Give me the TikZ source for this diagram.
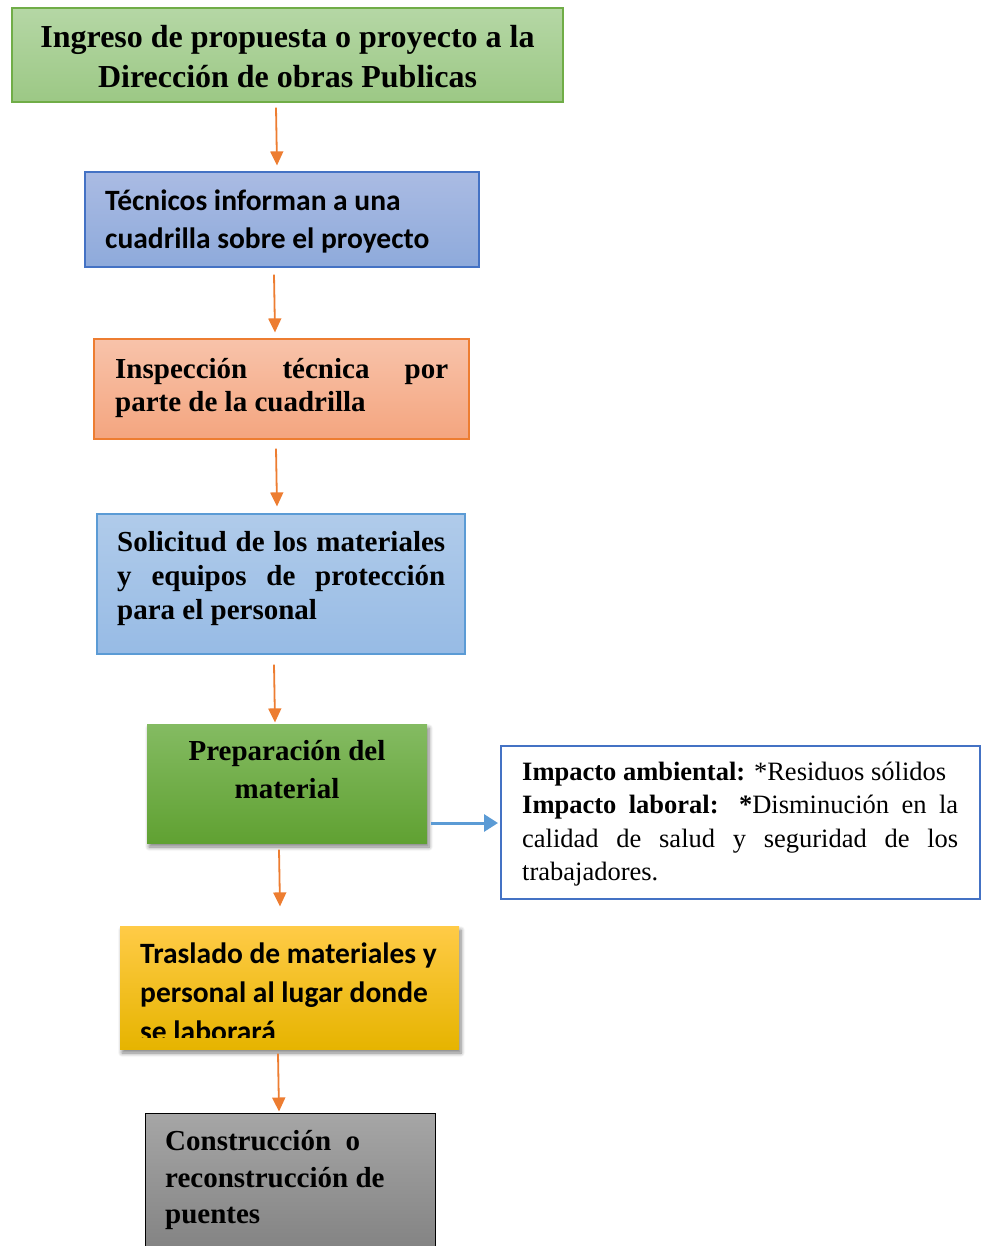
\documentclass[tikz,border=0pt]{standalone}
\usepackage{fontspec}
\usetikzlibrary{arrows.meta,calc,shadows.blur}
\newfontfamily\tnr{Liberation Serif}
\newfontfamily\calib{Carlito}

\definecolor{gOneTop}{HTML}{B5D7A5}
\definecolor{gOneBot}{HTML}{9CC885}
\definecolor{gOneLine}{HTML}{70AD47}
\definecolor{bTwoTop}{HTML}{AABBE3}
\definecolor{bTwoBot}{HTML}{8EAADB}
\definecolor{bTwoLine}{HTML}{4472C4}
\definecolor{oTop}{HTML}{F8C3AA}
\definecolor{oBot}{HTML}{F4A57F}
\definecolor{oLine}{HTML}{ED7D31}
\definecolor{lbTop}{HTML}{B0CBEA}
\definecolor{lbBot}{HTML}{97BBE5}
\definecolor{lbLine}{HTML}{5B9BD5}
\definecolor{gFiveTop}{HTML}{84BB62}
\definecolor{gFiveBot}{HTML}{60A132}
\definecolor{yTop}{HTML}{FFCB47}
\definecolor{yMid}{HTML}{FAC300}
\definecolor{yBot}{HTML}{E6B400}
\definecolor{grTop}{HTML}{A6A6A6}
\definecolor{grBot}{HTML}{7E7E7E}
\definecolor{arrOrange}{HTML}{ED7D31}
\definecolor{arrBlue}{HTML}{5B9BD5}

\begin{document}
\begin{tikzpicture}[x=1pt,y=-1pt,
  box/.style={rectangle, inner sep=0pt, line width=1.2pt},
  txt/.style={inner sep=0pt, anchor=north west, align=left},
  serifb/.style={font=\tnr\bfseries\fontsize{29}{#1}\selectfont},
  calb/.style={font=\calib\bfseries\fontsize{29.5}{#1}\selectfont},
  oarr/.style={draw=arrOrange, line width=1.8pt, -{Triangle[length=14pt,width=13pt]}},
  barr/.style={draw=arrBlue, line width=3pt, -{Triangle[length=14pt,width=17pt]}},
  soft/.style={blur shadow={shadow xshift=2pt, shadow yshift=-4pt, shadow blur steps=6, shadow blur radius=4pt, shadow opacity=50}}
]
\path[use as bounding box] (0,0) rectangle (986,1246);
\clip (0,0) rectangle (986,1246);

% step boxes
\node[box, draw=gOneLine, top color=gOneTop, bottom color=gOneBot,
      minimum width=551pt, minimum height=94pt] (b1) at (287.5,55) {};
\node[box, draw=bTwoLine, top color=bTwoTop, bottom color=bTwoBot,
      minimum width=394pt, minimum height=95pt] (b2) at (282,219.5) {};
\node[box, draw=oLine, top color=oTop, bottom color=oBot,
      minimum width=375pt, minimum height=100pt] (b3) at (281.5,389) {};
\node[box, draw=lbLine, top color=lbTop, bottom color=lbBot,
      minimum width=368pt, minimum height=140pt] (b4) at (281,584) {};
\node[box, soft, top color=gFiveTop, bottom color=gFiveBot,
      minimum width=280pt, minimum height=119pt] (b5) at (287,783.5) {};
\node[box, draw=bTwoLine, fill=white, line width=2pt,
      minimum width=479pt, minimum height=153pt] (b6) at (740.5,822.5) {};
\node[box, soft, top color=yTop, middle color=yMid, bottom color=yBot,
      minimum width=339pt, minimum height=123pt] (b7) at (289.5,987.5) {};
\node[box, draw=black, line width=1pt, top color=grTop, bottom color=grBot,
      minimum width=290pt, minimum height=157pt] (b8) at (290,1191.5) {};

% texts
\node[txt, anchor=north, align=center, font=\tnr\bfseries\fontsize{32}{39.3}\selectfont]
  (t1) at (287.5,20.2) {\strut Ingreso de propuesta o proyecto a la\\ Dirección de obras Publicas};
\node[txt, calb=38.5] (t2) at (105,183.0)
  {\strut Técnicos informan a una\\ cuadrilla sobre el proyecto};
\node[txt, serifb=32.7] (t3) at (115,355.4)
  {\makebox[333pt][s]{\strut Inspección técnica por}\\ parte de la cuadrilla};
\node[txt, serifb=34] (t4) at (117,527.9)
  {\makebox[328pt][s]{\strut Solicitud de los materiales}\\
   \makebox[328pt][s]{y equipos de protección}\\ para el personal};
\node[txt, anchor=north, align=center, serifb=37.6] (t5) at (287,734.4)
  {\strut Preparación del\\ material};
\node[txt, font=\tnr\fontsize{26.5}{33.1}\selectfont] (t6) at (522,757.5)
  {\strut\textbf{Impacto ambiental:} *Residuos sólidos\\
   \makebox[436pt][s]{\textbf{Impacto laboral: *}Disminución en la}\\
   \makebox[436pt][s]{calidad de salud y seguridad de los}\\
   trabajadores.};
\begin{scope}
  \clip (b7.north west) rectangle ($(b7.south east)+(0,-12)$);
  \node[txt, calb=38.8] (t7) at (140,936.1)
    {\strut Traslado de materiales y\\ personal al lugar donde\\ se laborará};
\end{scope}
\node[txt, serifb=36.3] (t8) at (165,1125.3)
  {\strut Construcción\ \ o\\ reconstrucción de\\ puentes};

% connectors
\draw[oarr] ($(b1.south)+(-11.5,5)$) -- ($(b2.north)+(-5,-6)$);
\draw[oarr] ($(b2.south)+(-8,7)$) -- ($(b3.north)+(-6.5,-6)$);
\draw[oarr] ($(b3.south)+(-5.5,9)$) -- ($(b4.north)+(-4,-7)$);
\draw[oarr] ($(b4.south)+(-7,10)$) -- ($(b5.north)+(-12,-1)$);
\draw[oarr] ($(b5.south)+(-8,6)$) -- ($(b7.north)+(-9.5,-19)$);
\draw[oarr] ($(b7.south)+(-11.5,4)$) -- ($(b8.north)+(-11,-1)$);
\draw[barr] ($(b5.east)+(3,39.5)$) -- ($(b6.west)+(-2,0.5)$);
\end{tikzpicture}
\end{document}
